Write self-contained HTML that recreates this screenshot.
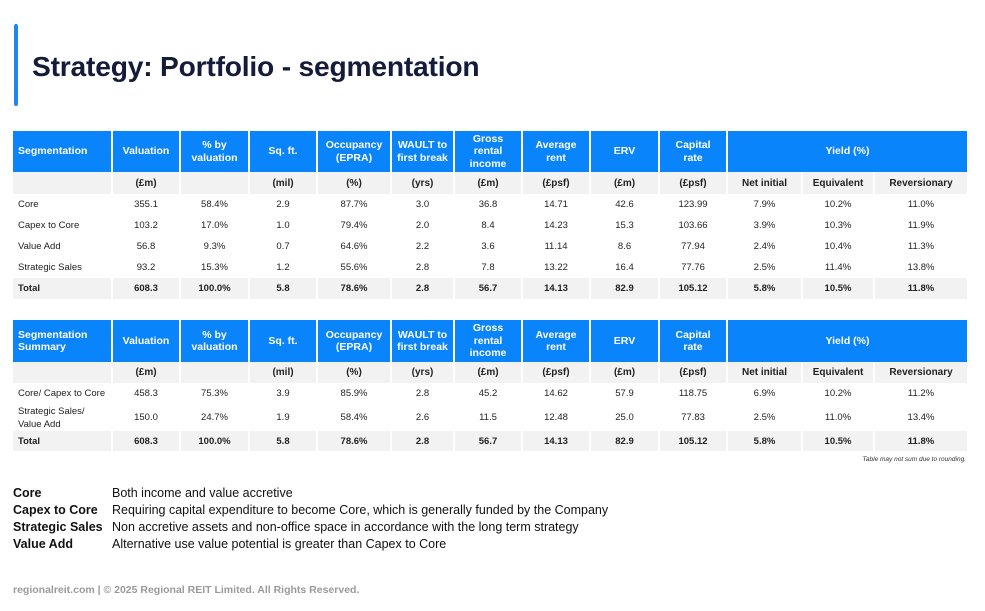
<!DOCTYPE html>
<html><head><meta charset="utf-8"><style>
*{margin:0;padding:0;box-sizing:border-box}
body{width:985px;height:611px;background:#fff;position:relative;overflow:hidden;font-family:"Liberation Sans",sans-serif;color:#222}
.bar{position:absolute;left:14px;top:24px;width:4px;height:82px;background:#1e88f0;border-radius:2px}
h1{position:absolute;left:32px;top:50px;font-size:28.2px;font-weight:bold;color:#141c3a;letter-spacing:-0.2px}
table{position:absolute;left:13px;border-collapse:collapse;table-layout:fixed;width:954px}
td,th{text-align:center;font-size:9.5px;border-left:2px solid #fff;white-space:nowrap;line-height:11px}
td:first-child,th:first-child{border-left:none;text-align:left;padding-left:5px}
th{background:#0a84fb;color:#fff;font-weight:bold;font-size:10.5px;line-height:12.5px;white-space:normal;padding:0 10px}
th.n{padding:0 2px}
tr.u td{background:#f2f2f2;font-weight:bold;font-size:10px}
tr.t td{background:#f2f2f2;font-weight:bold}
.note{position:absolute;right:19px;top:456px;font-size:6.5px;font-style:italic;color:#333}
.leg{position:absolute;left:13px;top:485px;font-size:12.5px;line-height:17px;color:#111}
.leg div{display:flex}.leg b{width:99px}
.foot{position:absolute;left:13px;top:584px;font-size:10.5px;color:#9a9a9a;font-weight:bold}
</style></head><body>
<div class="bar"></div>
<h1>Strategy: Portfolio - segmentation</h1>
<table style="top:131px">
<colgroup><col style="width:99px"><col style="width:68px"><col style="width:69px"><col style="width:68px"><col style="width:74px"><col style="width:63px"><col style="width:68px"><col style="width:68px"><col style="width:69px"><col style="width:68px"><col style="width:75px"><col style="width:72px"><col style="width:93px"></colgroup>
<tr style="height:41px"><th>Segmentation</th><th class="n">Valuation</th><th>% by valuation</th><th>Sq. ft.</th><th class="n">Occupancy (EPRA)</th><th class="n">WAULT to first break</th><th>Gross rental income</th><th>Average rent</th><th>ERV</th><th>Capital rate</th><th colspan="3">Yield (%)</th></tr>
<tr class="u" style="height:22px"><td></td><td>(£m)</td><td></td><td>(mil)</td><td>(%)</td><td>(yrs)</td><td>(£m)</td><td>(£psf)</td><td>(£m)</td><td>(£psf)</td><td>Net initial</td><td>Equivalent</td><td>Reversionary</td></tr>
<tr style="height:21px"><td>Core</td><td>355.1</td><td>58.4%</td><td>2.9</td><td>87.7%</td><td>3.0</td><td>36.8</td><td>14.71</td><td>42.6</td><td>123.99</td><td>7.9%</td><td>10.2%</td><td>11.0%</td></tr>
<tr style="height:21px"><td>Capex to Core</td><td>103.2</td><td>17.0%</td><td>1.0</td><td>79.4%</td><td>2.0</td><td>8.4</td><td>14.23</td><td>15.3</td><td>103.66</td><td>3.9%</td><td>10.3%</td><td>11.9%</td></tr>
<tr style="height:21px"><td>Value Add</td><td>56.8</td><td>9.3%</td><td>0.7</td><td>64.6%</td><td>2.2</td><td>3.6</td><td>11.14</td><td>8.6</td><td>77.94</td><td>2.4%</td><td>10.4%</td><td>11.3%</td></tr>
<tr style="height:21px"><td>Strategic Sales</td><td>93.2</td><td>15.3%</td><td>1.2</td><td>55.6%</td><td>2.8</td><td>7.8</td><td>13.22</td><td>16.4</td><td>77.76</td><td>2.5%</td><td>11.4%</td><td>13.8%</td></tr>
<tr class="t" style="height:21px"><td>Total</td><td>608.3</td><td>100.0%</td><td>5.8</td><td>78.6%</td><td>2.8</td><td>56.7</td><td>14.13</td><td>82.9</td><td>105.12</td><td>5.8%</td><td>10.5%</td><td>11.8%</td></tr>
</table>
<table style="top:320px">
<colgroup><col style="width:99px"><col style="width:68px"><col style="width:69px"><col style="width:68px"><col style="width:74px"><col style="width:63px"><col style="width:68px"><col style="width:68px"><col style="width:69px"><col style="width:68px"><col style="width:75px"><col style="width:72px"><col style="width:93px"></colgroup>
<tr style="height:42px"><th style="padding-right:2px">Segmentation Summary</th><th class="n">Valuation</th><th>% by valuation</th><th>Sq. ft.</th><th class="n">Occupancy (EPRA)</th><th class="n">WAULT to first break</th><th>Gross rental income</th><th>Average rent</th><th>ERV</th><th>Capital rate</th><th colspan="3">Yield (%)</th></tr>
<tr class="u" style="height:21px"><td></td><td>(£m)</td><td></td><td>(mil)</td><td>(%)</td><td>(yrs)</td><td>(£m)</td><td>(£psf)</td><td>(£m)</td><td>(£psf)</td><td>Net initial</td><td>Equivalent</td><td>Reversionary</td></tr>
<tr style="height:21px"><td>Core/ Capex to Core</td><td>458.3</td><td>75.3%</td><td>3.9</td><td>85.9%</td><td>2.8</td><td>45.2</td><td>14.62</td><td>57.9</td><td>118.75</td><td>6.9%</td><td>10.2%</td><td>11.2%</td></tr>
<tr style="height:27px"><td style="line-height:13px">Strategic Sales/<br>Value Add</td><td>150.0</td><td>24.7%</td><td>1.9</td><td>58.4%</td><td>2.6</td><td>11.5</td><td>12.48</td><td>25.0</td><td>77.83</td><td>2.5%</td><td>11.0%</td><td>13.4%</td></tr>
<tr class="t" style="height:20px"><td>Total</td><td>608.3</td><td>100.0%</td><td>5.8</td><td>78.6%</td><td>2.8</td><td>56.7</td><td>14.13</td><td>82.9</td><td>105.12</td><td>5.8%</td><td>10.5%</td><td>11.8%</td></tr>
</table>
<div class="note">Table may not sum due to rounding.</div>
<div class="leg">
<div><b>Core</b><span>Both income and value accretive</span></div>
<div><b>Capex to Core</b><span>Requiring capital expenditure to become Core, which is generally funded by the Company</span></div>
<div><b>Strategic Sales</b><span>Non accretive assets and non-office space in accordance with the long term strategy</span></div>
<div><b>Value Add</b><span>Alternative use value potential is greater than Capex to Core</span></div>
</div>
<div class="foot">regionalreit.com | © 2025 Regional REIT Limited. All Rights Reserved.</div>
</body></html>
